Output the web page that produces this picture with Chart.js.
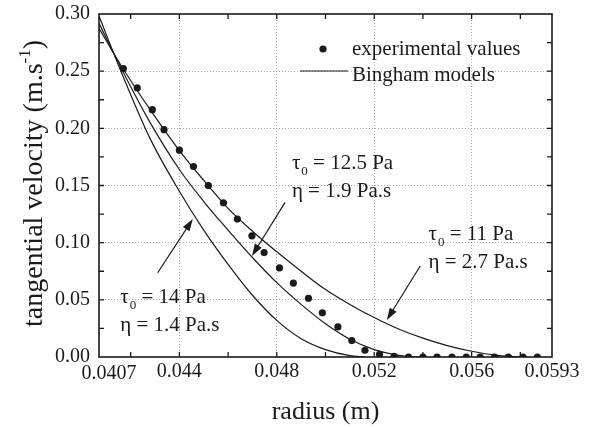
<!DOCTYPE html>
<html>
<head>
<meta charset="utf-8">
<script src="https://cdn.jsdelivr.net/npm/chart.js@4.4.1/dist/chart.umd.min.js"></script>
<style>
  html, body { margin: 0; padding: 0; background: #fff; }
</style>
</head>
<body>
<canvas id="velocityChart" width="590" height="427"></canvas>
<script>
// experimental values (radius in m, tangential velocity in m/s)
const expRadius = [0.04170, 0.04227, 0.04289, 0.04337, 0.04400, 0.04458, 0.04519, 0.04581, 0.04638, 0.04698,
  0.04748, 0.04811, 0.04868, 0.04930, 0.04987, 0.05051, 0.05108, 0.05162, 0.05222, 0.05282,
  0.05341, 0.05400, 0.05458, 0.05519, 0.05578, 0.05635, 0.05694, 0.05751, 0.05811, 0.05870];
const expVelocity = [0.2523, 0.2353, 0.2163, 0.1988, 0.1809, 0.1666, 0.1499, 0.1349, 0.1206, 0.1060,
  0.0913, 0.0779, 0.0647, 0.0514, 0.0386, 0.0263, 0.0144, 0.0059, 0.0024, 0.0006,
  0, 0, 0, 0, 0, 0, 0, 0, 0, 0];

// Bingham model curves
const binghamA_r = [0.0407, 0.0416, 0.0428, 0.0440, 0.0450, 0.0460, 0.0470, 0.0480, 0.0490, 0.0500, 0.0510, 0.0516];
const binghamA_v = [0.2982, 0.2500, 0.1910, 0.1450, 0.1110, 0.0810, 0.0540, 0.0320, 0.0160, 0.0065, 0.0012, 0];
const binghamB_r = [0.0407, 0.0416, 0.0428, 0.0440, 0.0450, 0.0460, 0.0470, 0.0480, 0.0490, 0.0500, 0.0510, 0.0520, 0.0530, 0.0538];
const binghamB_v = [0.2918, 0.2530, 0.2050, 0.1640, 0.1360, 0.1110, 0.0870, 0.0650, 0.0460, 0.0290, 0.0155, 0.0065, 0.0015, 0];
const binghamC_r = [0.0407, 0.0416, 0.0428, 0.0440, 0.0450, 0.0460, 0.0470, 0.0480, 0.0490, 0.0500, 0.0510, 0.0520, 0.0530, 0.0540, 0.0550, 0.0560, 0.0570, 0.0582];
const binghamC_v = [0.2874, 0.2552, 0.2163, 0.1806, 0.1545, 0.1300, 0.1100, 0.0920, 0.0750, 0.0590, 0.0460, 0.0345, 0.0245, 0.0165, 0.0100, 0.0050, 0.0015, 0];

// axes
const xTickValues = [0.0407, 0.044, 0.048, 0.052, 0.056, 0.0593];
const xTickLabels = ['0.0407', '0.044', '0.048', '0.052', '0.056', '0.0593'];
const xMinorTicks = [0.042, 0.044, 0.046, 0.048, 0.050, 0.052, 0.054, 0.056, 0.058];
const yMinorTicks = [0.025, 0.05, 0.075, 0.10, 0.125, 0.15, 0.175, 0.20, 0.225, 0.25, 0.275];

// labels placed in data coordinates
const modelNotes = [
  { r: 0.04862, v: 0.1647, tau: '12.5 Pa', eta: '1.9 Pa.s', arrowFrom: [0.04834, 0.1352], arrowTo: [0.04698, 0.0884] },
  { r: 0.05423, v: 0.1024, tau: '11 Pa', eta: '2.7 Pa.s', arrowFrom: [0.05389, 0.0796], arrowTo: [0.05252, 0.0324] },
  { r: 0.04157, v: 0.0475, tau: '14 Pa', eta: '1.4 Pa.s', arrowFrom: [0.04311, 0.0737], arrowTo: [0.04455, 0.1206] }
];

const toXY = (xs, ys) => xs.map((x, i) => ({ x: x, y: ys[i] }));
const INK = '#1a1a1a';
const SERIF = '"Liberation Serif", "DejaVu Serif", serif';

const lineStyle = {
  showLine: true,
  borderColor: INK,
  borderWidth: 1.2,
  pointRadius: 0,
  fill: false,
  cubicInterpolationMode: 'monotone'
};

function drawArrow(ctx, x1, y1, x2, y2) {
  const ang = Math.atan2(y2 - y1, x2 - x1);
  const len = 12, half = 4;
  ctx.beginPath();
  ctx.moveTo(x1, y1);
  ctx.lineTo(x2 - Math.cos(ang) * len * 0.8, y2 - Math.sin(ang) * len * 0.8);
  ctx.stroke();
  ctx.beginPath();
  ctx.moveTo(x2, y2);
  ctx.lineTo(x2 - Math.cos(ang) * len + Math.sin(ang) * half, y2 - Math.sin(ang) * len - Math.cos(ang) * half);
  ctx.lineTo(x2 - Math.cos(ang) * len - Math.sin(ang) * half, y2 - Math.sin(ang) * len + Math.cos(ang) * half);
  ctx.closePath();
  ctx.fill();
}

const decorations = {
  id: 'decorations',
  afterDraw(chart) {
    const ctx = chart.ctx;
    const area = chart.chartArea;
    const xs = chart.scales.x, ys = chart.scales.y;
    ctx.save();
    ctx.strokeStyle = INK;
    ctx.fillStyle = INK;

    // frame
    ctx.lineWidth = 1.6;
    ctx.strokeRect(area.left, area.top, area.right - area.left, area.bottom - area.top);

    // inward ticks on all four sides
    ctx.lineWidth = 1.3;
    ctx.beginPath();
    xMinorTicks.forEach(v => {
      const px = xs.getPixelForValue(v);
      ctx.moveTo(px, area.bottom); ctx.lineTo(px, area.bottom - 5);
      ctx.moveTo(px, area.top); ctx.lineTo(px, area.top + 5);
    });
    yMinorTicks.forEach(v => {
      const py = ys.getPixelForValue(v);
      ctx.moveTo(area.left, py); ctx.lineTo(area.left + 5, py);
      ctx.moveTo(area.right, py); ctx.lineTo(area.right - 5, py);
    });
    ctx.stroke();

    // first x label sits a bit to the right of the corner
    ctx.font = '20px ' + SERIF;
    ctx.textAlign = 'center';
    ctx.textBaseline = 'alphabetic';
    ctx.fillText(xTickLabels[0], xs.getPixelForValue(xTickValues[0]) + 10, area.bottom + 22);

    // axis titles
    ctx.font = '26px ' + SERIF;
    ctx.fillText('radius (m)', (area.left + area.right) / 2, 419);

    ctx.save();
    ctx.translate(42, (area.top + area.bottom) / 2 - 2);
    ctx.rotate(-Math.PI / 2);
    const main = 'tangential velocity (m.s';
    ctx.font = '28px ' + SERIF;
    const w1 = ctx.measureText(main).width;
    const w3 = ctx.measureText(')').width;
    ctx.font = '17px ' + SERIF;
    const w2 = ctx.measureText('-1').width;
    let u = -(w1 + w2 + w3) / 2;
    ctx.textAlign = 'left';
    ctx.font = '28px ' + SERIF;
    ctx.fillText(main, u, 0);
    u += w1;
    ctx.font = '17px ' + SERIF;
    ctx.fillText('-1', u, -12);
    u += w2;
    ctx.font = '28px ' + SERIF;
    ctx.fillText(')', u, 0);
    ctx.restore();

    // legend
    ctx.textAlign = 'left';
    ctx.font = '21px ' + SERIF;
    ctx.beginPath();
    ctx.arc(323, 49, 3.6, 0, Math.PI * 2);
    ctx.fill();
    ctx.fillText('experimental values', 352, 55);
    ctx.lineWidth = 1.2;
    ctx.beginPath();
    ctx.moveTo(300, 71); ctx.lineTo(348, 71);
    ctx.stroke();
    ctx.fillText('Bingham models', 352, 81);

    // model labels and arrows
    modelNotes.forEach(n => {
      const px = xs.getPixelForValue(n.r);
      const py = ys.getPixelForValue(n.v);
      ctx.font = '21px ' + SERIF;
      ctx.fillText('\u03c4', px, py);
      const wt = ctx.measureText('\u03c4').width;
      ctx.font = '13px ' + SERIF;
      ctx.fillText('0', px + wt + 1, py + 6);
      const w0 = ctx.measureText('0').width;
      ctx.font = '21px ' + SERIF;
      ctx.fillText(' = ' + n.tau, px + wt + w0 + 1, py);
      ctx.fillText('\u03b7 = ' + n.eta, px, py + 28.5);
      ctx.lineWidth = 1.2;
      drawArrow(ctx,
        xs.getPixelForValue(n.arrowFrom[0]), ys.getPixelForValue(n.arrowFrom[1]),
        xs.getPixelForValue(n.arrowTo[0]), ys.getPixelForValue(n.arrowTo[1]));
    });
    ctx.restore();
  }
};

const chart = new Chart(document.getElementById('velocityChart').getContext('2d'), {
  type: 'scatter',
  data: {
    datasets: [
      {
        label: 'experimental values',
        data: toXY(expRadius, expVelocity),
        pointRadius: 3.6,
        pointBackgroundColor: INK,
        pointBorderWidth: 0,
        showLine: false
      },
      Object.assign({ label: 'tau0 = 14 Pa', data: toXY(binghamA_r, binghamA_v) }, lineStyle),
      Object.assign({ label: 'tau0 = 12.5 Pa', data: toXY(binghamB_r, binghamB_v) }, lineStyle),
      Object.assign({ label: 'tau0 = 11 Pa', data: toXY(binghamC_r, binghamC_v) }, lineStyle)
    ]
  },
  options: {
    responsive: false,
    animation: false,
    devicePixelRatio: 1,
    layout: { padding: { left: 51, right: 38, top: 14, bottom: 40 } },
    plugins: {
      legend: { display: false },
      tooltip: { enabled: false }
    },
    scales: {
      x: {
        type: 'linear',
        min: 0.0407,
        max: 0.0593,
        afterBuildTicks: scale => { scale.ticks = xTickValues.map(v => ({ value: v })); },
        ticks: {
          autoSkip: false,
          maxRotation: 0,
          padding: 3,
          font: { family: SERIF, size: 20 },
          color: ctx => ctx.index === 0 ? 'rgba(0,0,0,0)' : INK,
          callback: (value, index) => xTickLabels[index]
        },
        grid: {
          drawTicks: false,
          lineWidth: 1,
          color: ctx => (ctx.index === 0 || ctx.index === xTickValues.length - 1) ? 'rgba(0,0,0,0)' : '#a8a8a8'
        },
        border: { display: false, dash: [1, 2] }
      },
      y: {
        type: 'linear',
        min: 0,
        max: 0.30,
        ticks: {
          stepSize: 0.05,
          padding: 4,
          font: { family: SERIF, size: 20, lineHeight: 1 },
          color: INK,
          callback: value => value.toFixed(2) + ' '
        },
        grid: {
          drawTicks: false,
          lineWidth: 1,
          color: ctx => (ctx.tick && (ctx.tick.value <= 0.0001 || ctx.tick.value >= 0.2999)) ? 'rgba(0,0,0,0)' : '#a8a8a8'
        },
        border: { display: false, dash: [1, 2] }
      }
    }
  },
  plugins: [decorations]
});
</script>
</body>
</html>
